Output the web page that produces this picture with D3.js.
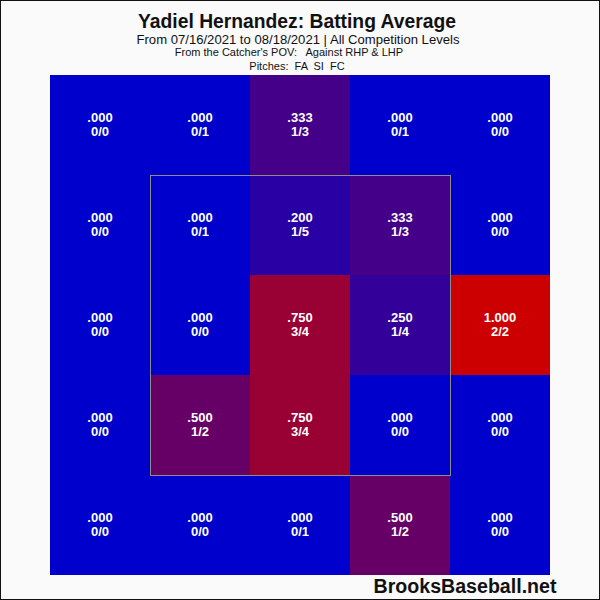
<!DOCTYPE html>
<html><head><meta charset="utf-8">
<script src="https://cdn.jsdelivr.net/npm/d3@7"></script>
<style>body{margin:0;background:#fff}svg{display:block}</style>
</head><body>
<script>
const rows = [0,1,2,3,4];
const cols = [0,1,2,3,4];
const hits = [
  [0,0,1,0,0],
  [0,0,1,1,0],
  [0,0,3,1,2],
  [0,1,3,0,0],
  [0,0,0,1,0]
];
const atBats = [
  [0,1,3,1,0],
  [0,1,5,3,0],
  [0,0,4,4,2],
  [0,2,4,0,0],
  [0,0,1,2,0]
];
const title = "Yadiel Hernandez: Batting Average";
const subtitle = "From 07/16/2021 to 08/18/2021 | All Competition Levels";
const line3 = "From the Catcher's POV:   Against RHP & LHP";
const line4 = "Pitches:  FA  SI  FC";
const credit = "BrooksBaseball.net";

const W = 600, H = 600;
const svg = d3.select("body").append("svg").attr("width", W).attr("height", H);
svg.append("rect").attr("x",0.5).attr("y",0.5).attr("width",W-1).attr("height",H-1)
  .attr("fill","#fafafa").attr("stroke","#111").attr("stroke-width",1);

const x = d3.scaleBand().domain(cols).range([50,550]).padding(0);
const y = d3.scaleBand().domain(rows).range([75,575]).padding(0);
const color = d3.scaleLinear().domain([0,1]).range(["#0000cc","#cc0000"]).interpolate(d3.interpolateRgb);

const cells = [];
rows.forEach(r => cols.forEach(c => {
  const h = hits[r][c], ab = atBats[r][c];
  cells.push({r, c, h, ab, avg: ab ? h/ab : 0});
}));
const fmt = v => v >= 1 ? d3.format(".3f")(v) : d3.format(".3f")(v).replace(/^0/, "");

const g = svg.append("g");
g.selectAll("rect.cell").data(cells).join("rect").attr("class","cell")
  .attr("x", d => x(d.c)).attr("y", d => y(d.r))
  .attr("width", x.bandwidth()).attr("height", y.bandwidth())
  .attr("fill", d => color(d.avg));

// strike zone
svg.append("rect").attr("x", x(1)+0.5).attr("y", y(1)+0.5)
  .attr("width", x.bandwidth()*3).attr("height", y.bandwidth()*3)
  .attr("fill","none").attr("stroke","#8c8c8c").attr("stroke-width",1);

const font = "'Liberation Sans', Arial, sans-serif";
const labels = g.selectAll("g.lab").data(cells).join("g").attr("class","lab");
labels.append("text")
  .attr("x", d => x(d.c)+x.bandwidth()/2).attr("y", d => y(d.r)+y.bandwidth()/2-3)
  .attr("text-anchor","middle").attr("font-family",font).attr("font-weight","bold")
  .attr("font-size",13).attr("fill","#fff").text(d => fmt(d.avg));
labels.append("text")
  .attr("x", d => x(d.c)+x.bandwidth()/2).attr("y", d => y(d.r)+y.bandwidth()/2+11)
  .attr("text-anchor","middle").attr("font-family",font).attr("font-weight","bold")
  .attr("font-size",13).attr("fill","#fff").text(d => d.h + "/" + d.ab);

svg.append("text").attr("x",297).attr("y",28).attr("text-anchor","middle")
  .attr("font-family",font).attr("font-weight","bold").attr("font-size",19.3).attr("fill","#111").text(title);
svg.append("text").attr("x",298).attr("y",44).attr("text-anchor","middle")
  .attr("font-family",font).attr("font-size",13.1).attr("fill","#111").text(subtitle);
svg.append("text").attr("x",289).attr("y",56).attr("text-anchor","middle")
  .attr("font-family",font).attr("font-size",11).attr("fill","#111")
  .style("white-space","pre").text(line3);
svg.append("text").attr("x",297).attr("y",69.5).attr("text-anchor","middle")
  .attr("font-family",font).attr("font-size",11).attr("fill","#111")
  .style("white-space","pre").text(line4);
svg.append("text").attr("x",465).attr("y",593).attr("text-anchor","middle")
  .attr("font-family",font).attr("font-weight","bold").attr("font-size",19.6).attr("fill","#111").text(credit);
</script>
</body></html>
